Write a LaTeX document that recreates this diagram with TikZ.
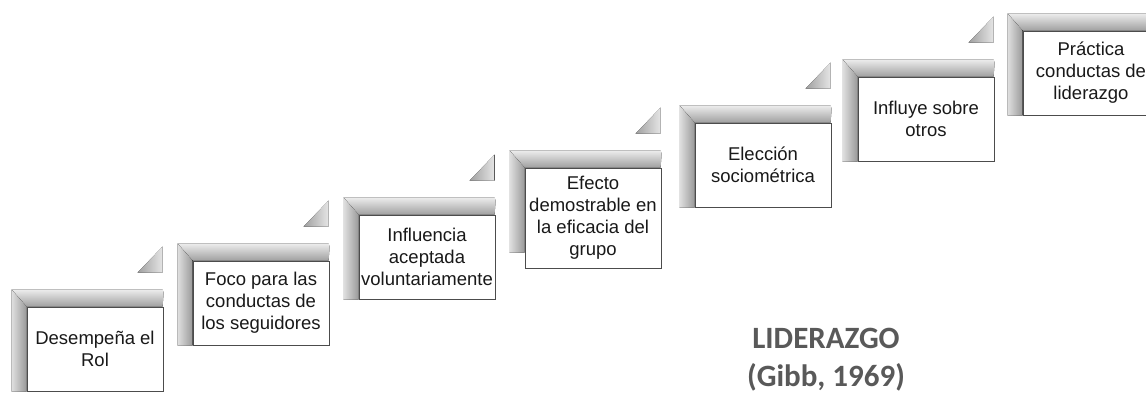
\documentclass[tikz,border=0pt]{standalone}
\usepackage{fontspec}
\setmainfont{Liberation Sans}
\newfontfamily\titlefont{Carlito}
\usetikzlibrary{calc}

\begin{document}
\begin{tikzpicture}[x=1pt,y=-1pt,
    stepbox/.style={draw=black!70, line width=0.8pt, fill=white, align=center,
      minimum width=136pt, minimum height=84pt, inner sep=0pt, text=black!90,
      font=\fontsize{18.5}{22}\selectfont},
    hbar/.style={top color=gray!15, bottom color=gray!75, middle color=gray!45},
    vbar/.style={left color=gray!25, right color=gray!80},
    corner/.style={left color=gray!75, right color=gray!20}]
    \clip (0,0) rectangle (1146,396);
    \fill[white] (0,0) rectangle (1146,396);
    % boxes of the stair
    \node[stepbox] (s1) at (95,349) {Desempeña el\\Rol};
    \node[stepbox] (s2) at (261,303) {Foco para las\\conductas de\\los seguidores};
    \node[stepbox] (s3) at (427,257) {Influencia\\aceptada\\voluntariamente};
    \node[stepbox, minimum height=100pt] (s4) at (593,218) {Efecto\\demostrable en\\la eficacia del\\grupo};
    \node[stepbox] (s5) at (763,165) {Elección\\sociométrica};
    \node[stepbox] (s6) at (926,119) {Influye sobre\\otros};
    \node[stepbox] (s7) at (1091,73) {Práctica\\conductas de\\liderazgo};
    % bevelled bars
    \foreach \s in {s1,s2,s3,s4,s5,s6,s7} {
      \coordinate (nw) at (\s.north west);
      \fill[hbar] ($(nw)+(-15,-17)$) -- ($(nw)+(136,-17)$) -- ($(nw)+(137,-14)$)
        -- ($(nw)+(136,0)$) -- (nw) -- cycle;
      \fill[vbar] ($(nw)+(-15,-17)$) -- (nw) -- ($(nw)+(0,85)$) -- ($(nw)+(-15,85)$) -- cycle;
    }
    % small corners
    \foreach \s in {s1,s2,s3,s4,s5,s6} {
      \coordinate (nw) at (\s.north west);
      \fill[corner] ($(nw)+(111,-34)$) -- ($(nw)+(136,-34)$) -- ($(nw)+(136,-60)$) -- cycle;
    }
    \node[font=\titlefont\bfseries\fontsize{31}{38}\selectfont, text=black!65, align=center]
      (ttl) at (826,360) {LIDERAZGO\\(Gibb, 1969)};
\end{tikzpicture}
\end{document}
